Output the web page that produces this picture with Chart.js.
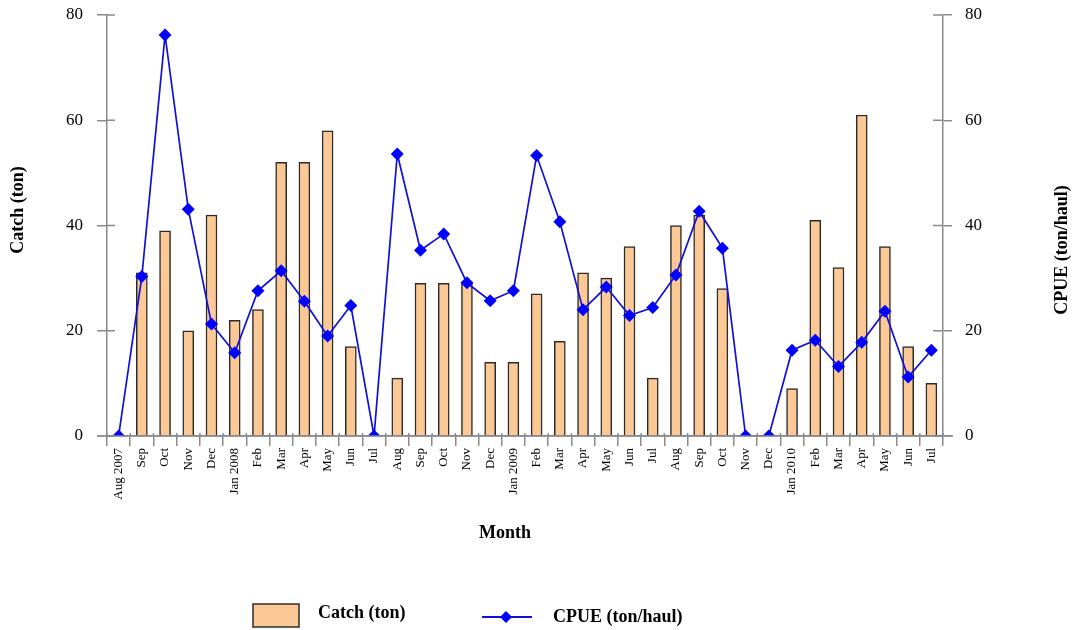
<!DOCTYPE html>
<html>
<head>
<meta charset="utf-8">
<script src="https://cdn.jsdelivr.net/npm/chart.js@4.4.1/dist/chart.umd.min.js"></script>
<style>
  html, body { margin: 0; padding: 0; background: #ffffff; }
  #wrap { width: 1075px; height: 630px; position: relative; }
</style>
</head>
<body>
<div id="wrap"><canvas id="c" width="1075" height="630"></canvas></div>
<script>
const months = ['Aug 2007','Sep','Oct','Nov','Dec','Jan 2008','Feb','Mar','Apr','May','Jun','Jul',
                'Aug','Sep','Oct','Nov','Dec','Jan 2009','Feb','Mar','Apr','May','Jun','Jul',
                'Aug','Sep','Oct','Nov','Dec','Jan 2010','Feb','Mar','Apr','May','Jun','Jul'];
const catchTon = [0,31,39,20,42,22,24,52,52,58,17,0,
                  11,29,29,29,14,14,27,18,31,30,36,11,
                  40,42,28,0,0,9,41,32,61,36,17,10];
const cpue = [0,30.3,76.2,43.1,21.3,15.8,27.6,31.4,25.6,19.0,24.8,0,
              53.6,35.3,38.4,29.1,25.7,27.6,53.3,40.7,24.0,28.3,22.9,24.4,
              30.6,42.7,35.7,0,0,16.3,18.2,13.2,17.8,23.7,11.2,16.3];
const yTicks = [0,20,40,60,80];
const titles = { left: 'Catch (ton)', right: 'CPUE (ton/haul)', x: 'Month' };
const legendLabels = ['Catch (ton)', 'CPUE (ton/haul)'];

const SERIF = '"Liberation Serif", "Times New Roman", serif';
const AXIS_GRAY = '#8a8a8a';
const BAR_FILL = '#fcc996';
const BAR_EDGE = '#2b2b2b';
const BLUE = '#0000ff';
const LINE_BLUE = '#1010d8';

const extras = {
  id: 'extras',
  afterDraw(chart) {
    const ctx = chart.ctx;
    const ys = chart.scales.y, yr = chart.scales.y1, xs = chart.scales.x;
    const area = chart.chartArea;
    ctx.save();
    // inner halves of the crossing tick marks
    ctx.strokeStyle = AXIS_GRAY;
    ctx.lineWidth = 1.5;
    yTicks.forEach(v => {
      const py = ys.getPixelForValue(v);
      ctx.beginPath(); ctx.moveTo(area.left, py); ctx.lineTo(area.left + 8, py); ctx.stroke();
      const pr = yr.getPixelForValue(v);
      ctx.beginPath(); ctx.moveTo(area.right - 10, pr); ctx.lineTo(area.right, pr); ctx.stroke();
    });
    // axis line extending across crossings
    ctx.beginPath(); ctx.moveTo(area.left - 10, area.bottom); ctx.lineTo(area.right + 10, area.bottom); ctx.stroke();
    const step = xs.getPixelForTick(1) - xs.getPixelForTick(0);
    for (let i = 0; i <= months.length; i++) {
      const px = xs.getPixelForTick(Math.min(i, months.length - 1)) + (i < months.length ? -step / 2 : step / 2);
      ctx.beginPath(); ctx.moveTo(px, area.bottom - 3); ctx.lineTo(px, area.bottom); ctx.stroke();
    }

    // axis titles
    ctx.fillStyle = '#000';
    ctx.font = 'bold 18px ' + SERIF;
    ctx.textAlign = 'center';
    ctx.textBaseline = 'middle';
    ctx.save(); ctx.translate(18, 210); ctx.rotate(-Math.PI / 2); ctx.fillText(titles.left, 0, 0); ctx.restore();
    ctx.save(); ctx.translate(1062, 250); ctx.rotate(-Math.PI / 2); ctx.fillText(titles.right, 0, 0); ctx.restore();
    ctx.fillText(titles.x, 505, 533);

    // legend
    ctx.fillStyle = BAR_FILL;
    ctx.strokeStyle = BAR_EDGE;
    ctx.lineWidth = 1.5;
    ctx.fillRect(253, 604, 46, 23);
    ctx.strokeRect(253, 604, 46, 23);
    ctx.fillStyle = '#000';
    ctx.textAlign = 'left';
    ctx.fillText(legendLabels[0], 318, 613);
    ctx.strokeStyle = LINE_BLUE;
    ctx.lineWidth = 2;
    ctx.beginPath(); ctx.moveTo(482, 617); ctx.lineTo(532, 617); ctx.stroke();
    ctx.fillStyle = BLUE;
    ctx.beginPath(); ctx.moveTo(506, 611); ctx.lineTo(512, 617); ctx.lineTo(506, 623); ctx.lineTo(500, 617); ctx.closePath(); ctx.fill();
    ctx.fillStyle = '#000';
    ctx.fillText(legendLabels[1], 553, 617);
    ctx.restore();
  }
};

function fixY(width) {
  return s => { s.width = width; s.paddingTop = 0; s.paddingBottom = 0; };
}

new Chart(document.getElementById('c'), {
  data: {
    labels: months,
    datasets: [
      {
        type: 'line', label: legendLabels[1], data: cpue, yAxisID: 'y1', order: 0,
        borderColor: LINE_BLUE, borderWidth: 1.7, tension: 0,
        pointStyle: 'rectRot', pointRadius: 6.5, pointBackgroundColor: BLUE, pointBorderColor: BLUE, pointBorderWidth: 0
      },
      {
        type: 'bar', label: legendLabels[0], data: catchTon, yAxisID: 'y', order: 1,
        backgroundColor: BAR_FILL, borderColor: BAR_EDGE, borderWidth: 1.5, barThickness: 11
      }
    ]
  },
  options: {
    responsive: false,
    animation: false,
    events: [],
    layout: { padding: { top: 15, left: 0, right: 0, bottom: 0 } },
    plugins: { legend: { display: false }, tooltip: { enabled: false } },
    scales: {
      x: {
        afterFit: s => { s.height = 194; s.paddingLeft = 0; s.paddingRight = 0; },
        border: { color: AXIS_GRAY, width: 1.5 },
        grid: { drawOnChartArea: false, drawTicks: true, tickLength: 10, color: AXIS_GRAY, lineWidth: 1.5, offset: true },
        ticks: { autoSkip: false, maxRotation: 90, minRotation: 90, padding: 2, color: '#000', font: { family: SERIF, size: 13 } }
      },
      y: {
        position: 'left', min: 0, max: 80,
        afterFit: fixY(107),
        afterBuildTicks: s => { s.ticks = yTicks.map(v => ({ value: v })); },
        border: { color: AXIS_GRAY, width: 1.5 },
        grid: { drawOnChartArea: false, drawTicks: true, tickLength: 10, color: AXIS_GRAY, lineWidth: 1.5 },
        ticks: { padding: 14, color: '#000', font: { family: SERIF, size: 17 } }
      },
      y1: {
        position: 'right', min: 0, max: 80,
        afterFit: fixY(132),
        afterBuildTicks: s => { s.ticks = yTicks.map(v => ({ value: v })); },
        border: { color: AXIS_GRAY, width: 1.5 },
        grid: { drawOnChartArea: false, drawTicks: true, tickLength: 9, color: AXIS_GRAY, lineWidth: 1.5 },
        ticks: { padding: 13, color: '#000', font: { family: SERIF, size: 17 } }
      }
    }
  },
  plugins: [extras]
});
</script>
</body>
</html>
